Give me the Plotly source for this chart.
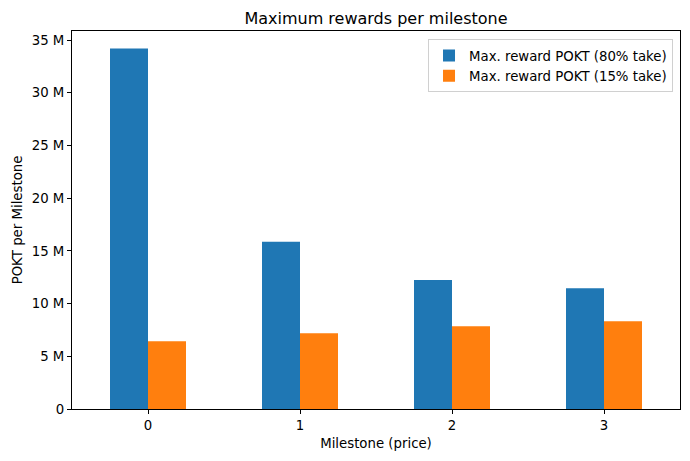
import plotly.graph_objects as go

milestones = [0, 1, 2, 3]
reward_80 = [34.19e6, 15.86e6, 12.23e6, 11.46e6]
reward_15 = [6.42e6, 7.18e6, 7.85e6, 8.32e6]
ytick_vals = [0, 5e6, 10e6, 15e6, 20e6, 25e6, 30e6, 35e6]
ytick_text = ["0", "5 M", "10 M", "15 M", "20 M", "25 M", "30 M", "35 M"]

fig = go.Figure()
fig.add_bar(x=milestones, y=reward_80, name="Max. reward POKT (80% take)",
            marker=dict(color="#1f77b4", line=dict(width=0)))
fig.add_bar(x=milestones, y=reward_15, name="Max. reward POKT (15% take)",
            marker=dict(color="#ff7f0e", line=dict(width=0)))

# the page body has an 8px margin, so the figure is drawn 8px in from the top-left
W, H = 682, 453
font = "DejaVu Sans"
fs = 13.3
fig.update_layout(
    width=W, height=H,
    margin=dict(l=64, r=10, t=23, b=52, autoexpand=False),
    paper_bgcolor="white", plot_bgcolor="white",
    barmode="group", bargap=0.5, bargroupgap=0,
    font=dict(family=font, size=fs, color="black"),
    title=dict(text="Maximum rewards per milestone", x=(64 + 672) / 2 / W, xanchor="center",
               y=1 - 10 / H, yanchor="middle", font=dict(size=16)),
    legend=dict(x=0.9885, y=0.978, xanchor="right", yanchor="top",
                bgcolor="rgba(255,255,255,0.8)", bordercolor="#d0d0d0", borderwidth=1,
                font=dict(size=fs), tracegroupgap=0, itemwidth=30),
    xaxis=dict(range=[-0.5, 3.5], tickvals=milestones, ticktext=[str(m) for m in milestones],
               showline=True, linecolor="black", linewidth=1, mirror=True, automargin=False,
               ticks="outside", ticklen=4, tickcolor="black", showgrid=False, zeroline=False,
               tickfont=dict(size=fs),
               title=dict(text="Milestone (price)", standoff=6, font=dict(size=fs))),
    yaxis=dict(range=[0, 35.86e6], tickvals=ytick_vals, ticktext=ytick_text,
               showline=True, linecolor="black", linewidth=1, mirror=True, automargin=False,
               ticks="outside", ticklen=4, tickcolor="black", showgrid=False, zeroline=False,
               tickfont=dict(size=fs),
               title=dict(text="POKT per Milestone", standoff=6, font=dict(size=fs))),
)
fig.write_html("out.html")
